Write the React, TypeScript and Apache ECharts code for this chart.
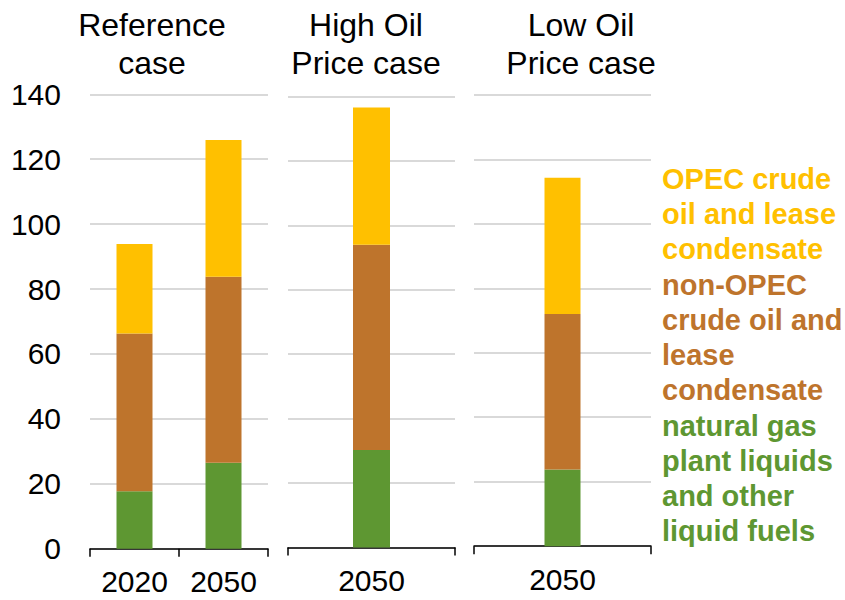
import React, { useEffect, useRef } from "react";
import * as echarts from "echarts";

const FONT = "'Liberation Sans', Arial, sans-serif";

const panelTitles = ["Reference\ncase", "High Oil\nPrice case", "Low Oil\nPrice case"];
const panelYears = [["2020", "2050"], ["2050"], ["2050"]];
const ngplValues = [[17.7, 26.5], [30.3], [23.8]];
const nonOpecValues = [[48.6, 57.3], [63.7], [48.2]];
const opecValues = [[27.6, 42.1], [42.6], [42.3]];
const seriesNames = [
  "natural gas plant liquids and other liquid fuels",
  "non-OPEC crude oil and lease condensate",
  "OPEC crude oil and lease condensate",
];
const seriesColors = ["#5E9732", "#BE742C", "#FFC000"];
const yMin = 0;
const yMax = 140;
const yInterval = 20;

const legendLines = [
  ["OPEC crude", "oil and lease", "condensate"],
  ["non-OPEC", "crude oil and", "lease", "condensate"],
  ["natural gas", "plant liquids", "and other", "liquid fuels"],
];
const legendColors = ["#FFC000", "#BE742C", "#5E9732"];

// layout (positions only)
const grids = [
  { left: 90, top: 94.3, width: 178, height: 454.4 },
  { left: 288, top: 96.5, width: 167, height: 451 },
  { left: 474, top: 94.8, width: 177, height: 451.4 },
];
const barWidths = [36, 37, 36];
const titleCenters = [152, 366, 581];
const legendTops = [161, 267, 408];

export default function App() {
  const ref = useRef<HTMLDivElement>(null);
  useEffect(() => {
    if (!ref.current) return;
    const chart = echarts.init(ref.current, undefined, { renderer: "svg" });
    const valueSets = [ngplValues, nonOpecValues, opecValues];
    const series: any[] = [];
    panelYears.forEach((_, p) => {
      valueSets.forEach((vals, s) => {
        series.push({
          type: "bar",
          name: seriesNames[s],
          xAxisIndex: p,
          yAxisIndex: p,
          stack: "p" + p,
          barWidth: barWidths[p],
          itemStyle: { color: seriesColors[s] },
          data: vals[p],
        });
      });
    });

    const legendGraphics = legendLines.map((lines, i) => ({
      type: "text",
      left: 662,
      top: legendTops[i],
      style: {
        text: lines.join("\n"),
        fill: legendColors[i],
        fontSize: 29,
        fontWeight: "bold",
        fontFamily: FONT,
        lineHeight: 35,
      },
    }));

    const titleGraphics = panelTitles.map((t, i) => ({
      type: "text",
      x: titleCenters[i],
      y: 6,
      style: {
        text: t,
        fill: "#000",
        fontSize: 32,
        fontFamily: FONT,
        lineHeight: 38,
        align: "center",
        verticalAlign: "top",
      },
    }));

    chart.setOption({
      animation: false,
      backgroundColor: "#ffffff",
      grid: grids.map((g) => ({ ...g, containLabel: false })),
      xAxis: panelYears.map((cats, i) => ({
        type: "category",
        gridIndex: i,
        data: cats,
        axisLine: { show: true, lineStyle: { color: "#000", width: 1.5 } },
        axisTick: { show: true, length: 8, lineStyle: { color: "#000", width: 1.5 } },
        axisLabel: {
          interval: 0,
          fontSize: 30,
          lineHeight: 30,
          fontFamily: FONT,
          color: "#000",
          margin: 18,
        },
      })),
      yAxis: panelYears.map((_, i) => ({
        type: "value",
        gridIndex: i,
        min: yMin,
        max: yMax,
        interval: yInterval,
        axisLine: { show: false },
        axisTick: { show: false },
        axisLabel: {
          show: i === 0,
          fontSize: 30,
          fontFamily: FONT,
          color: "#000",
          margin: 29,
        },
        splitLine: { show: true, lineStyle: { color: "#D9D9D9", width: 2 } },
      })),
      graphic: [...titleGraphics, ...legendGraphics],
      series,
    });
    return () => chart.dispose();
  }, []);
  return (
    <div
      ref={ref}
      style={{ position: "fixed", left: 0, top: 0, width: 845, height: 600 }}
    />
  );
}
